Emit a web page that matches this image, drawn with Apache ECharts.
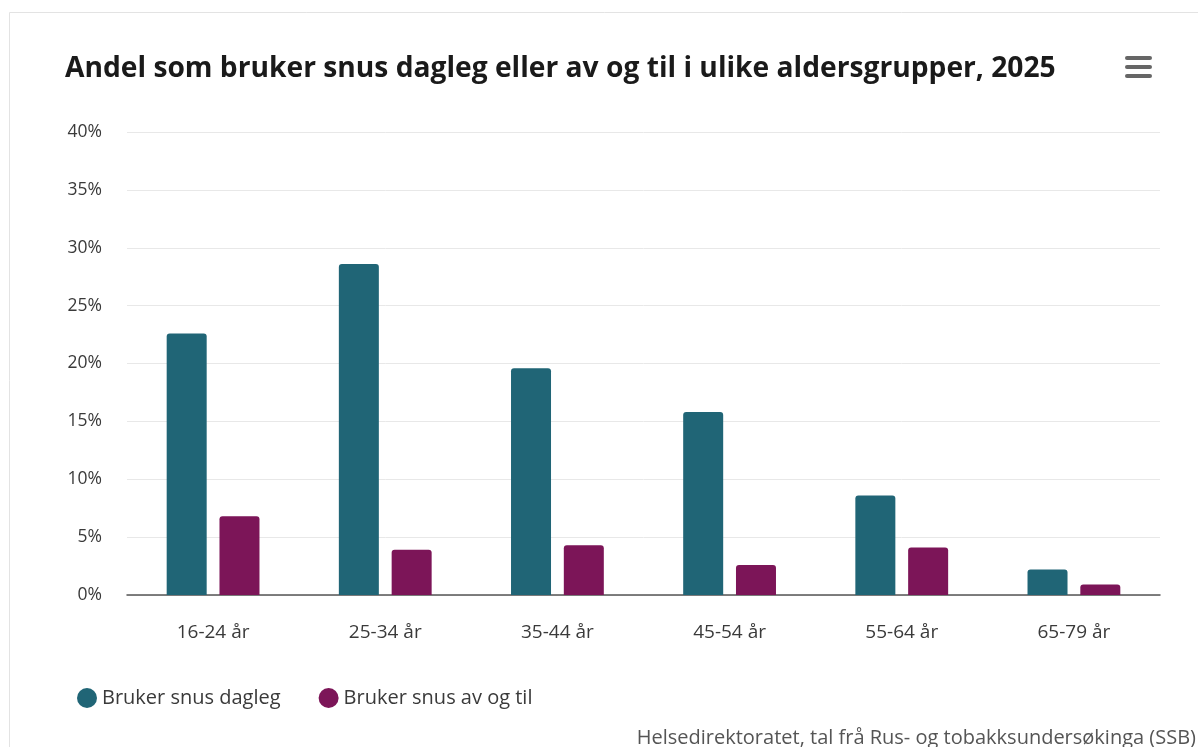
<!DOCTYPE html>
<html>
<head>
<meta charset="utf-8">
<script src="https://cdn.jsdelivr.net/npm/echarts@6/dist/echarts.min.js"></script>
<style>
  html, body { margin: 0; padding: 0; background: #fff; }
  #chart { width: 1198px; height: 747px; }
</style>
</head>
<body>
<div id="chart"></div>
<script>
// aldersgrupper og verdier (prosent)
var categories = ['16-24 år', '25-34 år', '35-44 år', '45-54 år', '55-64 år', '65-79 år'];
var dagleg = [22.6, 28.6, 19.6, 15.8, 8.6, 2.2];
var avOgTil = [6.8, 3.9, 4.3, 2.6, 4.1, 0.9];
var yTicks = [0, 5, 10, 15, 20, 25, 30, 35, 40];

(function () {
    var myChart = echarts.init(document.getElementById('chart'));
    var font = '"Open Sans", "Noto Sans", sans-serif';
    var option = {
        color: ['#206576', '#7c1558'],
        textStyle: { fontFamily: font },
        title: {
            text: 'Andel som bruker snus dagleg eller av og til i ulike aldersgrupper, 2025',
            left: 60,
            top: 50,
            textStyle: { fontSize: 28.2, fontWeight: 'bold', color: '#1a1a1a', fontFamily: font }
        },
        grid: { left: 127, right: 38, top: 132, bottom: 152 },
        xAxis: {
            type: 'category',
            data: categories,
            axisTick: { show: false },
            axisLine: { lineStyle: { color: '#555', width: 1.5 } },
            axisLabel: { color: '#3a3a3a', fontSize: 19, margin: 28 }
        },
        yAxis: {
            type: 'value',
            min: yTicks[0],
            max: yTicks[yTicks.length - 1],
            interval: 5,
            axisLabel: { color: '#3a3a3a', fontSize: 17.5, margin: 25, formatter: '{value}%' },
            splitLine: { lineStyle: { color: '#e8e8e8', width: 1 } }
        },
        legend: {
            left: 72,
            top: 683,
            itemWidth: 20,
            itemHeight: 20,
            itemGap: 38,
            icon: 'circle',
            textStyle: { color: '#3a3a3a', fontSize: 20 }
        },
        series: [
            {
                name: 'Bruker snus dagleg',
                type: 'bar',
                data: dagleg,
                barWidth: 40,
                barGap: '32%',
                itemStyle: { borderRadius: [3, 3, 0, 0] }
            },
            {
                name: 'Bruker snus av og til',
                type: 'bar',
                data: avOgTil,
                barWidth: 40,
                itemStyle: { borderRadius: [3, 3, 0, 0] }
            }
        ],
        graphic: [
            {
                type: 'rect',
                shape: { x: 9.5, y: 12.5, width: 1200, height: 760 },
                style: { fill: 'none', stroke: '#e3e3e3', lineWidth: 1 },
                silent: true
            },
            // meny-ikon
            {
                type: 'group',
                left: 1125,
                top: 56,
                children: [
                    { type: 'rect', shape: { x: 0, y: 0, width: 27, height: 4, r: 2 }, style: { fill: '#666' } },
                    { type: 'rect', shape: { x: 0, y: 9, width: 27, height: 4, r: 2 }, style: { fill: '#666' } },
                    { type: 'rect', shape: { x: 0, y: 18, width: 27, height: 4, r: 2 }, style: { fill: '#666' } }
                ]
            },
            {
                type: 'text',
                right: 2,
                top: 728,
                style: {
                    text: 'Helsedirektoratet, tal frå Rus- og tobakksundersøkinga (SSB)',
                    fill: '#555',
                    font: '20px ' + font
                }
            }
        ]
    };
    myChart.setOption(option);
    window.addEventListener('resize', function () {
        myChart.resize();
    });
})();
</script>
</body>
</html>
